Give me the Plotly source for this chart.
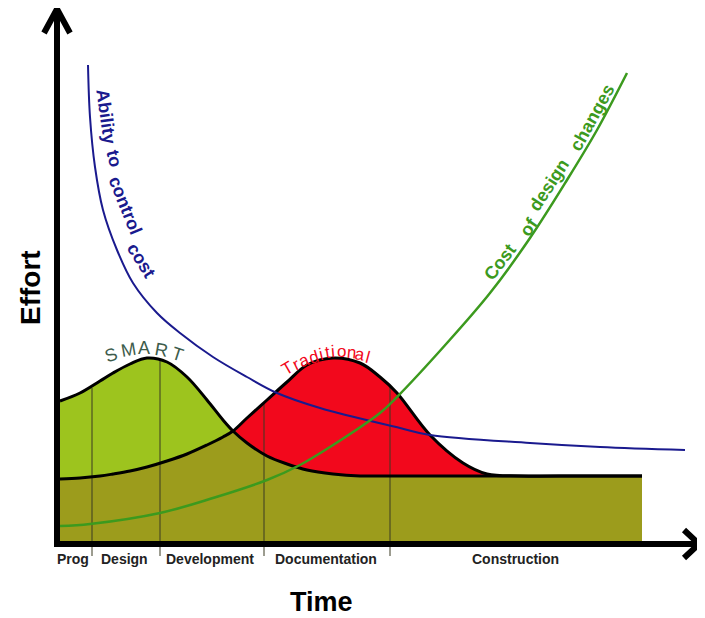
import plotly.graph_objects as go
import numpy as np

# ---------------- data (time units to the right of the origin, effort units above the time axis) -------------
time_grid = [3, 23, 43, 56, 73, 90, 110, 130, 150, 166, 176, 190, 210, 230, 250, 276, 303, 323, 340, 373, 406, 430, 463, 523, 585]
smart_effort = [142, 150, 162, 170, 179, 185, 181, 166, 143, 123, 112, 100, 87, 79, 73, 69, 67, 67, 67, 67, 67, 67, 67, 67, 67]
traditional_effort = [64, 65, 67, 69, 72, 76, 82, 89, 98, 106, 112, 125, 143, 161, 178, 185, 180, 166, 150, 108, 80, 69, 67, 67, 67]

ability_time = [31, 33, 38, 46, 60, 76, 100, 123, 156, 190, 220, 263, 343, 373, 473, 543, 628]
ability_value = [478, 426, 376, 333, 293, 260, 230, 210, 186, 166, 150, 135, 115, 108, 100, 96, 93]

cost_time = [3, 33, 103, 156, 210, 243, 273, 323, 340, 390, 433, 473, 510, 540, 570]
cost_value = [17, 19, 30, 45, 63, 78, 96, 130, 146, 200, 250, 305, 363, 413, 470]

phase_names = ["Prog", "Design", "Development", "Documentation", "Construction"]
phase_label_time = [16, 67, 153, 269, 458]
phase_boundaries = [35, 103, 207, 333]
phase_boundary_tops = [155, 184, 140, 157]

smart_letters = list("SMART")
traditional_letters = list("Traditional")

# ---------------- styling constants ----------------
OLIVE = "#9c9c1c"
LIGHT_GREEN = "#9dc41e"
RED = "#f2081c"
NAVY = "#1a1a8e"
COST_GREEN = "#3c9a1e"
FONT = "Liberation Sans, Arial, sans-serif"
PAGE_OFFSET = 8  # default body margin of the html page

base_effort = list(np.minimum(smart_effort, traditional_effort))

fig = go.Figure()

# fills
fig.add_trace(go.Scatter(x=time_grid, y=smart_effort, mode="lines", line=dict(width=0, shape="spline"),
                         fill="tozeroy", fillcolor=LIGHT_GREEN, hoverinfo="skip"))
fig.add_trace(go.Scatter(x=time_grid, y=traditional_effort, mode="lines", line=dict(width=0, shape="spline"),
                         fill="tozeroy", fillcolor=RED, hoverinfo="skip"))
fig.add_trace(go.Scatter(x=time_grid, y=base_effort, mode="lines", line=dict(width=0, shape="spline"),
                         fill="tozeroy", fillcolor=OLIVE, hoverinfo="skip"))

# phase dividers
for bt, top in zip(phase_boundaries, phase_boundary_tops):
    fig.add_trace(go.Scatter(x=[bt, bt], y=[-13, top], mode="lines",
                             line=dict(color="#3b3b22", width=1), hoverinfo="skip"))

# outlines
fig.add_trace(go.Scatter(x=time_grid, y=smart_effort, mode="lines",
                         line=dict(color="black", width=3, shape="spline"), hoverinfo="skip"))
fig.add_trace(go.Scatter(x=time_grid, y=traditional_effort, mode="lines",
                         line=dict(color="black", width=3, shape="spline"), hoverinfo="skip"))

# ability to control cost / cost of design changes
fig.add_trace(go.Scatter(x=ability_time, y=ability_value, mode="lines",
                         line=dict(color=NAVY, width=2, shape="spline"), hoverinfo="skip"))
fig.add_trace(go.Scatter(x=cost_time, y=cost_value, mode="lines",
                         line=dict(color=COST_GREEN, width=2.5, shape="spline"), hoverinfo="skip"))

# axis arrows
fig.add_trace(go.Scatter(x=[0, 0], y=[-4, 533], mode="lines", line=dict(color="black", width=6), hoverinfo="skip"))
fig.add_trace(go.Scatter(x=[-13, 0, 13], y=[510, 534, 510], mode="lines", line=dict(color="black", width=6), hoverinfo="skip"))
fig.add_trace(go.Scatter(x=[-3, 642], y=[-1, -1], mode="lines", line=dict(color="black", width=6), hoverinfo="skip"))
fig.add_trace(go.Scatter(x=[627, 642, 627], y=[13, -1, -15], mode="lines", line=dict(color="black", width=6), hoverinfo="skip"))

annotations = []

# phase labels
for name, t in zip(phase_names, phase_label_time):
    annotations.append(dict(x=t, y=-16, text=f"<b>{name}</b>", showarrow=False,
                            font=dict(family=FONT, size=14, color="#222222")))

annotations.append(dict(x=264, y=-59, text="<b>Time</b>", showarrow=False,
                        font=dict(family=FONT, size=27, color="black")))
annotations.append(dict(x=-27, y=255, text="<b>Effort</b>", showarrow=False, textangle=-90,
                        font=dict(family=FONT, size=28, color="black")))

# curved labels
ability_words = [("Ability", 49, 427, 82), ("to", 57, 385, 76), ("control", 68, 338, 68), ("cost", 84, 283, 58)]
for w, x, y, a in ability_words:
    annotations.append(dict(x=x, y=y, text=f"<b>{w}</b>", showarrow=False, textangle=a,
                            font=dict(family=FONT, size=18, color=NAVY)))

cost_words = [("Cost", 443, 281, -53), ("of", 472, 316, -55), ("design", 492, 358, -57), ("changes", 535, 425, -61)]
for w, x, y, a in cost_words:
    annotations.append(dict(x=x, y=y, text=f"<b>{w}</b>", showarrow=False, textangle=a,
                            font=dict(family=FONT, size=18, color=COST_GREEN)))

smart_pos = [(54, 188, -20), (71, 193, -10), (87, 195, 0), (104, 193, 10), (120, 189, 18)]
for ch, (x, y, a) in zip(smart_letters, smart_pos):
    annotations.append(dict(x=x, y=y, text=ch, showarrow=False, textangle=a,
                            font=dict(family=FONT, size=18, color="#3d5c4c")))

trad_pos = [(230, 175, -30), (239, 179, -26), (247, 183, -22), (256, 186, -17), (264, 189, -13),
            (270, 191, -9), (276, 192, -5), (284, 192, 0), (294, 191, 5), (303, 189, 10), (311, 186, 15)]
for ch, (x, y, a) in zip(traditional_letters, trad_pos):
    annotations.append(dict(x=x, y=y, text=ch, showarrow=False, textangle=a,
                            font=dict(family=FONT, size=17, color=RED)))

fig.update_layout(
    width=705, height=618,
    margin=dict(l=0, r=0, t=0, b=0),
    paper_bgcolor="white", plot_bgcolor="white",
    showlegend=False,
    xaxis=dict(visible=False, range=[-57 + PAGE_OFFSET, 648 + PAGE_OFFSET], fixedrange=True),
    yaxis=dict(visible=False, range=[-75 - PAGE_OFFSET, 543 - PAGE_OFFSET], fixedrange=True),
    annotations=annotations,
)

fig.write_html("out.html")
